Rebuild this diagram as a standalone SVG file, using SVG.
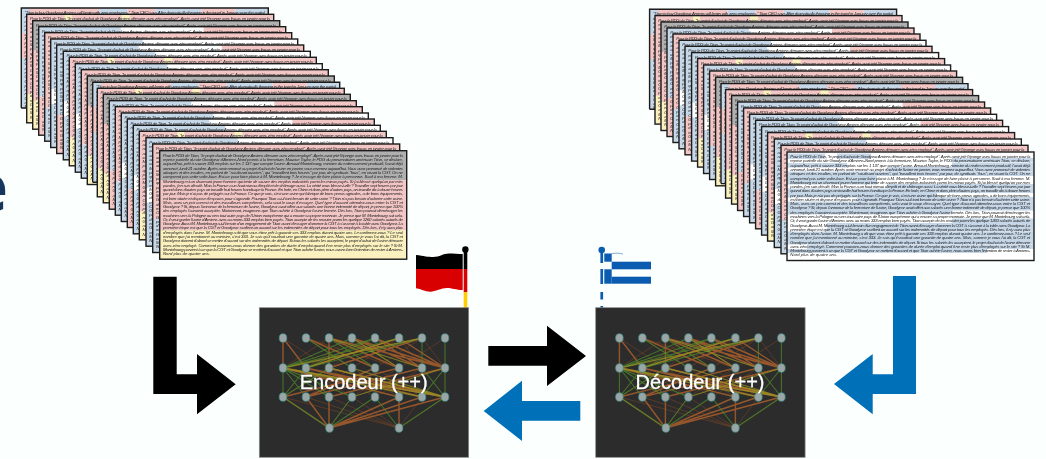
<svg xmlns="http://www.w3.org/2000/svg" width="1046" height="459" viewBox="0 0 1046 459">
<style>
.t{font:italic 4.3px "Liberation Sans",Arial,sans-serif;fill:#222}
.b{fill:none;stroke:#1c1c1c;stroke-width:1.4}
.w{fill:#fff}.g{fill:#b0b0b0}.p{fill:#f3c6c6}.y{fill:#fbf1bf}.u{fill:#c6d7e8}
.box{fill:#2c2c2c;stroke:#8b8b8b;stroke-width:.7}
.lab{font:20px "Liberation Sans",Arial,sans-serif;fill:#fff;stroke:#fff;stroke-width:.3;text-anchor:middle}
.n{fill:#9aa5a5;stroke:#3c8f8c;stroke-width:.7}
.e1{fill:none;stroke:#9a4f26;stroke-width:.7;opacity:.55}
.e2{fill:none;stroke:#b0602c;stroke-width:1.4;opacity:.8}
.e3{fill:none;stroke:#4d8a2a;stroke-width:1.1;opacity:.75}
.e4{fill:none;stroke:#9c9a22;stroke-width:1.3;opacity:.7}
.k{fill:#000}.bl{fill:#0070b8}.gr{fill:#0b5cb0}
</style>
<defs>
<filter id="soft" x="-2%" y="-2%" width="104%" height="104%"><feGaussianBlur stdDeviation=".3"/></filter>
<clipPath id="c100"><rect x="-1" y="-1" width="250" height="101.5"/></clipPath>
<g id="fr"><text class="t" x="3.3" y="6.2" textLength="240">Pour le PDG de Titan, "le projet d'achat de Goodyear Amiens démarre avec zéro employé". Après avoir jeté l'éponge avec fracas en janvier pour la</text></g>
<g id="en"><text class="t" x="3.3" y="6.2" textLength="240">"Titan to buy Goodyear Amiens will begin with zero employees." Titan CEO says After dramatically throwing in the towel in January over the partial</text></g>
<g id="body">
<text class="t" x="3.3" y="10.47" textLength="240">reprise partielle du site Goodyear d'Amiens-Nord promis à la fermeture, Maurice Taylor, le PDG du pneumaticien américain Titan, se déclare,</text>
<text class="t" x="3.3" y="14.74" textLength="240">aujourd'hui, prêt à sauver 333 emplois sur les 1 137 que compte l'usine. Arnaud Montebourg, ministre du redressement productif, l'avait déjà</text>
<text class="t" x="3.3" y="19.01" textLength="240">annoncé, lundi 21 octobre. Après avoir renoncé au projet d'achat de l'usine en janvier, vous revenez aujourd'hui. Vous avez prononcé de violentes</text>
<text class="t" x="3.3" y="23.28" textLength="240">attaques et des insultes, en parlant de "soi-disant ouvriers", qui "travaillent trois heures" par jour, de syndicats "fous", en visant la CGT. On ne</text>
<text class="t" x="3.3" y="27.55" textLength="240">comprend pas cette volte-face. Est-ce pour faire plaisir à M. Montebourg ? Je n'essaye de faire plaisir à personne. Sauf à ma femme. M.</text>
<text class="t" x="3.3" y="31.82" textLength="240">Montebourg est un charmant jeune homme qui tente de sauver des emplois industriels parmi les mieux payés. Si j'ai blessé quelqu'un par mes</text>
<text class="t" x="3.3" y="36.09" textLength="240">paroles, j'en suis désolé. Mais la France a un haut niveau d'impôt et de chômage aussi. La vérité vous blesse-t-elle ? Travailler sept heures par jour</text>
<text class="t" x="3.3" y="40.36" textLength="240">quand dans d'autres pays on travaille huit heures handicape la France. En Inde, en Chine et dans plein d'autres pays, on travaille dix à douze heures</text>
<text class="t" x="3.3" y="44.63" textLength="240">par jour. Mais je n'ai pas de préjugés sur la France. Ce que je vois, c'est une usine qui fabrique de bons pneus agricoles, a de bons équipements,</text>
<text class="t" x="3.3" y="48.9" textLength="240">est bien située et dispose d'espaces pour s'agrandir. Pourquoi Titan a-t-il tant besoin de cette usine ? Titan n'a pas besoin d'acheter cette usine.</text>
<text class="t" x="3.3" y="53.17" textLength="240">Mais, avec un prix correct et des travailleurs compétents, cela vaut le coup d'essayer. Quel type d'accord attendez-vous entre la CGT et</text>
<text class="t" x="3.3" y="57.44" textLength="240">Goodyear ? Si, depuis l'annonce de la fermeture de l'usine, Goodyear avait offert aux salariés une bonne indemnité de départ, je pense que 100%</text>
<text class="t" x="3.3" y="61.71" textLength="240">des employés l'auraient acceptée. Maintenant, imaginons que Titan achète à Goodyear l'usine fermée. Dès lors, Titan pourrait déménager les</text>
<text class="t" x="3.3" y="65.98" textLength="240">machines vers la Pologne ou vers tout autre pays de l'Union européenne qui a encore sa propre monnaie. Je pense que M. Montebourg sait cela.</text>
<text class="t" x="3.3" y="70.25" textLength="240">Or, il veut garder l'usine d'Amiens avec au moins 333 emplois bien payés. Titan accepte de les recruter parmi les quelque 1260 salariés actuels de</text>
<text class="t" x="3.3" y="74.52" textLength="240">Goodyear. Aussi M. Montebourg a-t-il besoin d'un engagement de Titan avant d'essayer d'amener la CGT à s'asseoir à la table avec Goodyear. La</text>
<text class="t" x="3.3" y="78.79" textLength="240">première étape est que la CGT et Goodyear scellent un accord sur les indemnités de départ pour tous les employés. Dès lors, il n'y aura plus</text>
<text class="t" x="3.3" y="83.06" textLength="240">d'employés dans l'usine. M. Montebourg a dit que vous étiez prêt à garantir ces 333 emplois durant quatre ans. Le confirmez-vous ? Le seul</text>
<text class="t" x="3.3" y="87.33" textLength="240">nombre que j'ai mentionné au ministre, c'est 333. Je sais qu'il voudrait une garantie de quatre ans. Mais, comme je vous l'ai dit, la CGT et</text>
<text class="t" x="3.3" y="91.6" textLength="240">Goodyear doivent d'abord se mettre d'accord sur des indemnités de départ. Si tous les salariés les acceptent, le projet d'achat de l'usine démarre</text>
<text class="t" x="3.3" y="95.87" textLength="240">avec zéro employé. Comment pouvons-nous donner des garanties de durée d'emploi quand il ne reste plus d'employés sur le site ? Si M.</text>
<text class="t" x="3.3" y="100.14" textLength="240">Montebourg parvient à ce que la CGT et Goodyear se mettent d'accord et que Titan achète l'usine, nous avons bien l'intention de rester à Amiens-</text>
<text class="t" x="3.3" y="104.41">Nord plus de quatre ans.</text>
</g>
<rect id="edge" class="b" width="247" height="108.5"/>
<g id="pG"><rect class="g" width="247" height="29.5"/><rect class="p" y="29.5" width="247" height="50"/><rect class="y" y="79.5" width="247" height="29"/><use href="#fr"/><use href="#body"/><use href="#edge"/></g>
<g id="pY"><rect class="p" width="247" height="108.5"/><rect class="y" x="38" width="7" height="7"/><rect class="y" x="95" width="8" height="7"/><rect class="y" y="80" width="8" height="28.5"/><use href="#fr"/><use href="#body"/><use href="#edge"/></g>
<g id="pP"><rect class="p" width="247" height="75"/><rect class="u" y="75" width="247" height="33.5"/><use href="#fr"/><use href="#body"/><use href="#edge"/></g>
<g id="pB"><rect class="w" width="247" height="108.5"/><rect class="u" width="92" height="7"/><rect class="u" width="8" height="50"/><rect class="u" y="65" width="8" height="43.5"/><use href="#fr"/><use href="#body"/><use href="#edge"/></g>
<g id="pT"><rect class="w" width="247" height="108.5"/><rect class="u" width="82" height="7"/><rect class="p" x="165" width="82" height="7"/><rect class="u" width="8" height="70"/><rect class="p" y="70" width="8" height="38.5"/><use href="#fr"/><use href="#body"/><use href="#edge"/></g>
<g id="pE"><g clip-path="url(#c100)"><rect class="w" width="247" height="108.5"/><rect class="u" width="10" height="108.5"/><rect class="p" x="8" width="70" height="6"/><rect class="u" x="78" width="28" height="6"/><rect class="p" x="106" width="28" height="6"/><rect class="u" x="134" width="46" height="6"/><rect class="p" x="180" width="34" height="6"/><rect class="u" x="214" width="33" height="6"/><rect class="p" y="25" width="8" height="25"/><use href="#en"/><use href="#body"/></g><path class="b" d="M0 100V0H247V100H0"/></g>
<g id="stack">
<use href="#pE" x="21.3" y="8"/><use href="#pY" x="26.7" y="14.3"/><use href="#pG" x="32.7" y="20.7"/><use href="#pT" x="38.7" y="26.7"/>
<use href="#pP" x="44.7" y="32.7"/><use href="#pB" x="50.7" y="39"/><use href="#pT" x="56.7" y="45"/><use href="#pB" x="63.3" y="51.3"/>
<use href="#pY" x="69.3" y="57.3"/><use href="#pB" x="75.3" y="63.7"/><use href="#pP" x="81.3" y="69.7"/><use href="#pG" x="87.3" y="76"/>
<use href="#pE" x="92.7" y="82.3"/><use href="#pY" x="97.3" y="88.3"/><use href="#pG" x="103.3" y="94.3"/><use href="#pT" x="109.3" y="100.7"/>
<use href="#pP" x="115.3" y="106.7"/><use href="#pB" x="121.3" y="113"/><use href="#pT" x="127.3" y="119"/><use href="#pB" x="133.3" y="125.3"/>
<use href="#pY" x="139.3" y="131.3"/><use href="#pB" x="146" y="137.7"/><use href="#pP" x="152.7" y="144"/>
</g>
<g id="net">
<g filter="url(#soft)">
<path class="e1" d="M306 338L352 368M329 338L283 368M352 338L306 368M352 338L399 368M375 338L329 368M399 338L352 368M422 338L375 368M445 338L399 368M283 338L329 368M306 338L399 368M306 368L352 397M329 368L283 397M352 368L306 397M352 368L399 397M375 368L422 397M399 368L352 397M422 368L375 397M329 368L375 397M283 397L399 428M306 397L399 428M329 397L399 428M352 397L399 428M352 397L329 428M422 397L399 428M445 397L399 428M399 338L422 368M422 338L445 368M329 338L375 368"/>
<path class="e2" d="M283 338L283 368M283 338L306 368M329 338L329 368M306 338L375 368M329 338L399 368M329 338L445 368M352 338L445 368M375 338L445 368M352 338L422 368M399 338L445 368M375 338L422 368M422 338L329 368M399 338L306 368M283 368L399 397M283 368L445 397M306 368L422 397M306 368L445 397M329 368L445 397M399 368L283 397M422 368L306 397M445 368L329 397M375 368L306 397M283 397L329 428M306 397L329 428M329 397L329 428M399 397L329 428M422 397L329 428M445 397L329 428M399 397L399 428"/>
<path class="e3" d="M375 338L283 368M399 338L283 368M422 338L306 368M445 338L445 368M422 338L422 368M352 338L283 368M375 338L306 368M306 338L352 368M329 338L375 368M283 368L283 397M283 368L306 397M306 368L283 397M283 368L329 397M329 368L283 397M306 368L329 397M445 368L445 397M445 368L422 397M422 368L445 397M283 397L329 428M375 397L329 428M445 397L399 428M352 397L329 428M375 397L399 428M283 368L352 397"/>
<path class="e4" d="M399 338L306 368M422 338L283 368M352 338L399 368M329 338L422 368M283 368L422 397M283 368L445 397M329 368L445 397M352 368L445 397M445 368L352 397"/>
</g>
<g id="nodes">
<ellipse class="n" cx="283" cy="338" rx="3.8" ry="4.3"/><ellipse class="n" cx="306" cy="338" rx="3.8" ry="4.3"/><ellipse class="n" cx="329" cy="338" rx="3.8" ry="4.3"/><ellipse class="n" cx="352" cy="338" rx="3.8" ry="4.3"/><ellipse class="n" cx="375" cy="338" rx="3.8" ry="4.3"/><ellipse class="n" cx="399" cy="338" rx="3.8" ry="4.3"/><ellipse class="n" cx="422" cy="338" rx="3.8" ry="4.3"/><ellipse class="n" cx="445" cy="338" rx="3.8" ry="4.3"/>
<ellipse class="n" cx="283" cy="368" rx="3.8" ry="4.3"/><ellipse class="n" cx="306" cy="368" rx="3.8" ry="4.3"/><ellipse class="n" cx="329" cy="368" rx="3.8" ry="4.3"/><ellipse class="n" cx="352" cy="368" rx="3.8" ry="4.3"/><ellipse class="n" cx="375" cy="368" rx="3.8" ry="4.3"/><ellipse class="n" cx="399" cy="368" rx="3.8" ry="4.3"/><ellipse class="n" cx="422" cy="368" rx="3.8" ry="4.3"/><ellipse class="n" cx="445" cy="368" rx="3.8" ry="4.3"/>
<ellipse class="n" cx="283" cy="397" rx="3.8" ry="4.3"/><ellipse class="n" cx="306" cy="397" rx="3.8" ry="4.3"/><ellipse class="n" cx="329" cy="397" rx="3.8" ry="4.3"/><ellipse class="n" cx="352" cy="397" rx="3.8" ry="4.3"/><ellipse class="n" cx="375" cy="397" rx="3.8" ry="4.3"/><ellipse class="n" cx="399" cy="397" rx="3.8" ry="4.3"/><ellipse class="n" cx="422" cy="397" rx="3.8" ry="4.3"/><ellipse class="n" cx="445" cy="397" rx="3.8" ry="4.3"/>
<ellipse class="n" cx="329.5" cy="428" rx="3.8" ry="4.3"/><ellipse class="n" cx="399" cy="428" rx="3.8" ry="4.3"/>
</g>
</g>
</defs>
<rect width="1046" height="459" fill="#fbfffe"/>
<text x="-31" y="211" font-family="'Open Sans',sans-serif" font-weight="700" font-size="66" fill="#17365d">e</text>
<g id="docs-source" filter="url(#soft)">
<use href="#stack"/>
<use href="#pG" x="159.7" y="150.7"/>
</g>
<g id="docs-target" filter="url(#soft)">
<use href="#stack" x="628.3" y="1.3"/>
<g transform="translate(787 152)">
<rect class="w" width="247" height="108.5"/>
<g class="u"><rect x="0" y="1.5" width="38" height="5.5"/><rect x="50" y="1.5" width="34" height="5.5"/><rect x="165" y="6" width="82" height="4.5"/><rect y="11" width="60" height="4.5"/><rect x="165" y="11" width="82" height="4.5"/><rect x="100" y="15" width="147" height="4.5"/><rect y="19.5" width="247" height="4.5"/><rect y="24" width="90" height="4.5"/><rect y="28" width="90" height="4.5"/><rect x="100" y="32" width="147" height="4.5"/><rect y="36.5" width="247" height="4.5"/><rect y="41" width="150" height="4.5"/><rect x="70" y="45" width="177" height="4.5"/><rect y="49.5" width="247" height="4.5"/><rect y="54" width="247" height="4.5"/><rect y="58" width="165" height="4.5"/><rect x="165" y="66.5" width="82" height="4.5"/><rect x="40" y="71" width="207" height="4.5"/><rect x="40" y="75" width="207" height="4.5"/><rect y="79.5" width="247" height="4.5"/><rect y="84" width="247" height="4.5"/><rect y="88" width="247" height="4.5"/><rect x="20" y="92.5" width="227" height="4.5"/><rect y="97" width="200" height="4"/></g>
<use href="#fr"/><use href="#body"/><use href="#edge"/>
</g>
</g>
<g id="flag-german">
<path fill="#000" d="M416 255C424 256 428 257 433 257C440 257 443 253.5 449 253.5C454 253.5 458 254 462.7 254V269H416Z"/>
<path fill="#d80000" d="M416 269H462.7V290C456 290 452 288 447 288C441 288 436 291.7 430 291.7C425 291.7 421 289 416 288.3Z"/>
<rect x="463.7" y="250" width="3.6" height="19" fill="#000"/>
<rect x="463.7" y="269" width="3.6" height="23" fill="#d80000"/>
<rect x="463.7" y="292" width="3.6" height="16" fill="#ffce00"/>
<circle cx="465.4" cy="249.5" r="3.2" fill="#000"/>
</g>
<g id="flag-greek">
<circle class="gr" cx="601.7" cy="250" r="3.3"/>
<rect class="gr" x="600.4" y="250" width="2.7" height="13"/><rect class="gr" x="600.4" y="269" width="2.7" height="15"/><rect class="gr" x="600.4" y="292" width="2.7" height="7.5"/><rect class="gr" x="600.4" y="306" width="2.7" height="2"/>
<rect class="gr" x="604.3" y="253.5" width="7.4" height="8.2"/><rect class="gr" x="604.3" y="269.3" width="7.4" height="14.4"/>
<rect class="gr" x="611.7" y="261.7" width="39.3" height="7.6"/><rect class="gr" x="611.7" y="276.7" width="39.3" height="7"/>
<path d="M611.7 253.6C616 253 620 253 623 254" fill="none" stroke="#0b5cb0" stroke-width=".5"/>
</g>
<g id="encodeur">
<rect class="box" x="259.3" y="307.7" width="209.4" height="149.6"/>
<use href="#net"/>
<text class="lab" x="363.7" y="389">Encodeur (++)</text>
</g>
<g id="decodeur">
<rect class="box" x="595.7" y="307.7" width="209.4" height="149.6"/>
<use href="#net" x="336.4"/>
<text class="lab" x="700" y="389">Décodeur (++)</text>
</g>
<g id="connectors">
<polygon class="k" points="153.3,276.7 176.7,276.7 176.7,374.3 197,374.3 197,354 235.7,384.3 197,414.3 197,394 153.3,394"/>
<polygon class="k" points="488.3,346 547,346 547,325.7 586,356 547,386 547,365.7 488.3,365.7"/>
<polygon class="bl" points="580.3,401 522,401 522,380.7 483.7,411 522,441 522,420.7 580.3,420.7"/>
<polygon class="bl" points="916,276 893,276 893,374.3 872.7,374.3 872.7,354 834,384 872.7,414.3 872.7,394 916,394"/>
</g>
</svg>
